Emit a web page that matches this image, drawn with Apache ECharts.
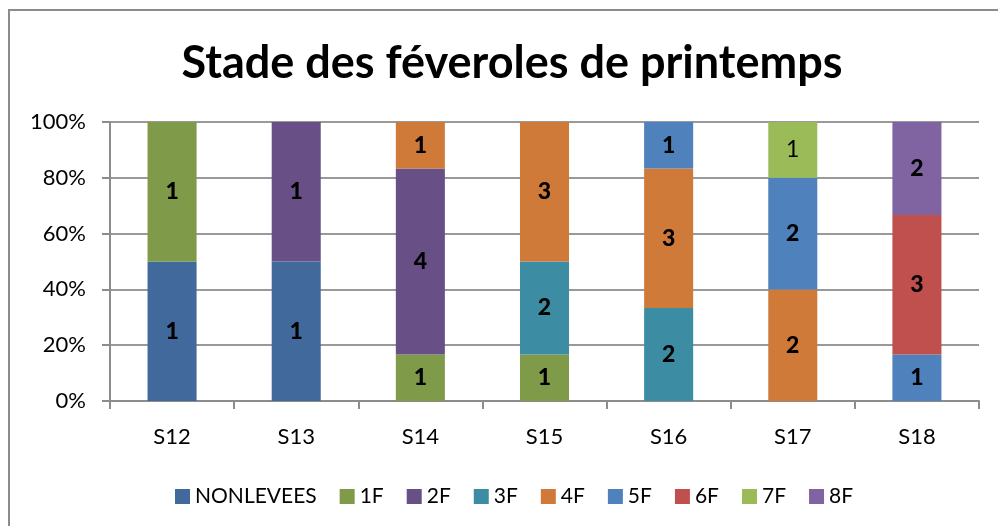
<!DOCTYPE html>
<html>
<head>
<meta charset="utf-8">
<style>
html,body{margin:0;padding:0;background:#fff;}
#chart{width:998px;height:526px;}
</style>
<script src="https://cdn.jsdelivr.net/npm/echarts@6/dist/echarts.min.js"></script>
</head>
<body>
<div id="chart"></div>
<script>
var categories = ['S12','S13','S14','S15','S16','S17','S18'];
var seriesNames = ['NONLEVEES','1F','2F','3F','4F','5F','6F','7F','8F'];
var NONLEVEES = [1,1,0,0,0,0,0];
var F1 = [1,0,1,1,0,0,0];
var F2 = [0,1,4,0,0,0,0];
var F3 = [0,0,0,2,2,0,0];
var F4 = [0,0,1,3,3,2,0];
var F5 = [0,0,0,0,1,2,1];
var F6 = [0,0,0,0,0,0,3];
var F7 = [0,0,0,0,0,1,0];
var F8 = [0,0,0,0,0,0,2];
var yTicks = ['0%','20%','40%','60%','80%','100%'];

var colors = ['#41699C','#7F9A48','#684F86','#3C8DA3','#CF7A39','#4F81BD','#C0504D','#9BBB59','#8064A2'];
var raw = [NONLEVEES,F1,F2,F3,F4,F5,F6,F7,F8];
var totals = categories.map(function(c,i){
  var s=0; raw.forEach(function(a){s+=a[i];}); return s;
});
var font = 'Lato, "Open Sans", sans-serif';
var series = raw.map(function(arr,k){
  return {
    name: seriesNames[k],
    type: 'bar',
    stack: 'total',
    barWidth: '39.5%',
    itemStyle: {color: colors[k]},
    label: {
      show: true,
      position: 'inside',
      color: '#000',
      fontFamily: font,
      fontSize: 23,
      fontWeight: k===7 ? 'normal' : 900,
      formatter: function(p){ return raw[k][p.dataIndex] ? String(raw[k][p.dataIndex]) : ''; }
    },
    data: arr.map(function(v,i){ return v ? v/totals[i]*100 : null; })
  };
});

var chart = echarts.init(document.getElementById('chart'));
chart.setOption({
  animation: false,
  color: colors,
  title: {
    text: 'Stade des féveroles de printemps',
    left: 507, textAlign: 'center', top: 36,
    textStyle: {fontFamily: font, fontSize: 45, fontWeight: 'bold', color: '#000'}
  },
  legend: {
    data: seriesNames,
    left: 170, top: 481,
    icon: 'rect', itemWidth: 15, itemHeight: 15, itemGap: 23,
    textStyle: {fontFamily: font, fontSize: 21, color: '#000'}
  },
  grid: {left: 110, right: 19, top: 122, bottom: 125},
  xAxis: {
    type: 'category',
    data: categories,
    axisLine: {lineStyle: {color: '#8c8c8c', width: 2}},
    axisTick: {show: true, length: 8, lineStyle: {color: '#8c8c8c', width: 2}},
    axisLabel: {fontFamily: font, fontSize: 22, color: '#000', margin: 25}
  },
  yAxis: {
    type: 'value', min: 0, max: 100, interval: 20,
    axisLine: {show: true, lineStyle: {color: '#8c8c8c', width: 2}},
    axisTick: {show: true, length: 8, inside: false, lineStyle: {color: '#8c8c8c', width: 2}},
    splitLine: {lineStyle: {color: '#999', width: 2}},
    axisLabel: {fontFamily: font, fontSize: 22, color: '#000', margin: 24,
      formatter: function(v){ return yTicks[Math.round(v/20)]; }}
  },
  graphic: [{
    type: 'rect', shape: {x: 9, y: 10, width: 1010, height: 540},
    style: {fill: 'none', stroke: '#8c8c8c', lineWidth: 2}, silent: true
  }],
  series: series
});
</script>
</body>
</html>
